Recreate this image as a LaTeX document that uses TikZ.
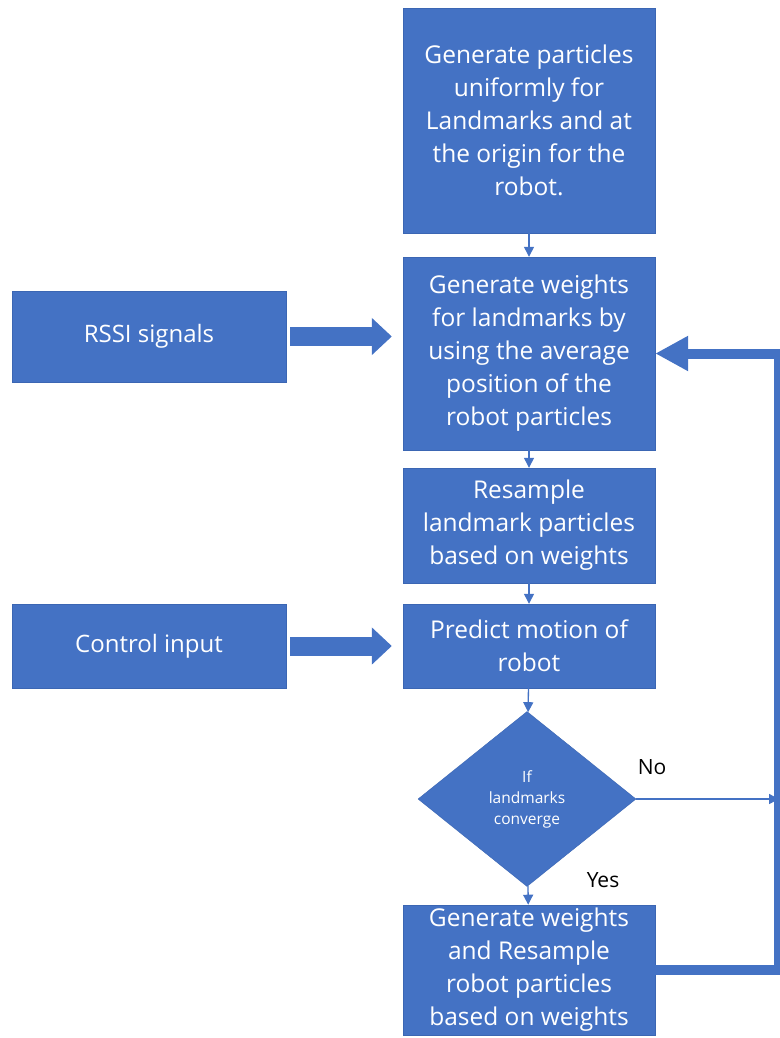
\documentclass[tikz,border=0pt]{standalone}
\usepackage{fontspec}
\setmainfont{Open Sans}
\usetikzlibrary{arrows.meta,shapes.geometric}

\definecolor{flowblue}{HTML}{4472C4}
\definecolor{flowedge}{HTML}{3B66B3}

\tikzset{
    StepBox/.style={rectangle, fill=flowblue, draw=flowedge, thin, text=white,
        align=center, minimum width=252pt, font=\fontsize{24.5}{33}\selectfont},
    InputBox/.style={rectangle, fill=flowblue, draw=flowedge, thin, text=white,
        align=center, minimum width=274pt, font=\fontsize{24}{33}\selectfont},
    FlowEdge/.style={draw=flowblue, line width=1.3pt, -{Triangle[width=10pt,length=10pt]}},
    BlockEdge/.style={draw=flowblue, line width=19pt, -{Triangle[width=36pt,length=20pt]}},
    LoopEdge/.style={draw=flowblue, line width=10pt, line join=miter, -{Triangle[width=33pt,length=33pt]}}
}

\begin{document}
\begin{tikzpicture}[x=1pt, y=-1pt]

\useasboundingbox (0,0) rectangle (779,1038);

% Main column
\node (gen) at (529,120.5) [StepBox, minimum height=225pt]
    {Generate particles\\uniformly for\\Landmarks and at\\the origin for the\\robot.};
\node (weights) at (529,353.5) [StepBox, minimum height=193pt]
    {Generate weights\\for landmarks by\\using the average\\position of the\\robot particles};
\node (resample) at (529,525.5) [StepBox, minimum height=115pt]
    {Resample\\landmark particles\\based on weights};
\node (predict) at (529,646) [StepBox, minimum height=84pt]
    {Predict motion of\\robot};
\node (conv) at (527,799) [diamond, fill=flowblue, draw=flowedge, thin, text=white,
    align=center, minimum width=218pt, minimum height=175pt, inner sep=0pt,
    font=\fontsize{15.5}{21}\selectfont]
    {If\\landmarks\\converge};
\node (final) at (529,970) [StepBox, minimum height=130pt]
    {Generate weights\\and Resample\\robot particles\\based on weights};

% Inputs on the left
\node (rssi) at (149,336.5) [InputBox, minimum height=91pt] {RSSI signals};
\node (control) at (149,646) [InputBox, minimum height=84pt] {Control input};

% Right edge of the loop
\coordinate (rim) at (779,0);

% Branch labels
\node (no) at (652,767) [font=\fontsize{21}{24}\selectfont] {No};
\node (yes) at (603,880) [font=\fontsize{21}{24}\selectfont] {Yes};

% Thin arrows down the column
\draw [FlowEdge] (gen) -- (weights);
\draw [FlowEdge] (weights) -- (resample);
\draw [FlowEdge] (resample) -- (predict);
\draw [FlowEdge] (predict) -- (conv);
\draw [FlowEdge] (conv) -- (final);
\draw [FlowEdge] (conv.east) -- (conv.east -| rim);

% Block arrows from the inputs
\draw [BlockEdge] ([xshift=4pt]rssi.east) -- ([xshift=-11pt]rssi.east -| weights.west);
\draw [BlockEdge] ([xshift=4pt]control.east) -- ([xshift=-11pt]predict.west);

% Loop back
\draw [LoopEdge] (final.east) -- (final.east -| rim) -- (weights.east -| rim) -- (weights.east);

\end{tikzpicture}
\end{document}
